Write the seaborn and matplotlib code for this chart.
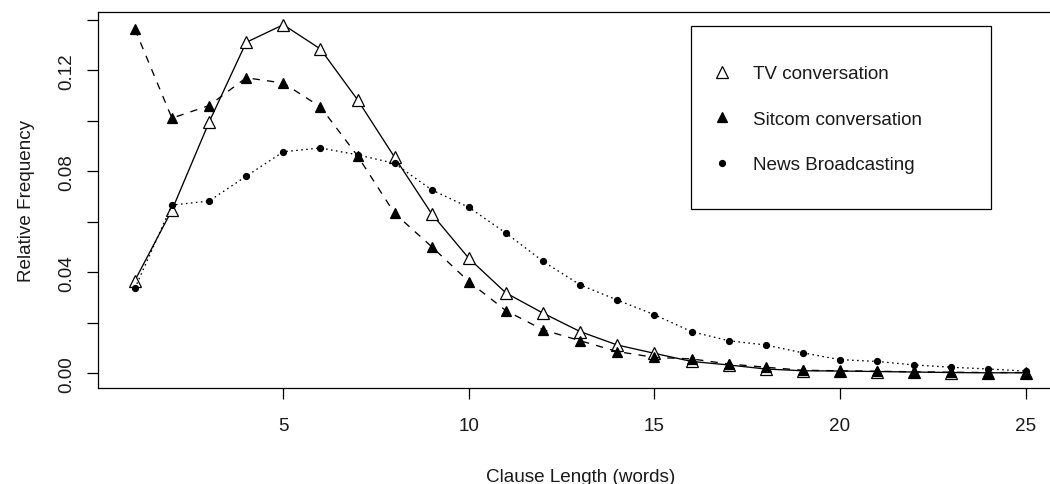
import numpy as np
import pandas as pd
import seaborn as sns
import matplotlib.pyplot as plt
from matplotlib.lines import Line2D
from matplotlib.patches import Rectangle

# Clause length in words
lengths = list(range(1, 26))

# Relative frequency per clause length
tv = [0.0367, 0.0646, 0.0994, 0.1310, 0.1380, 0.1284, 0.1083, 0.0855, 0.0631,
      0.0455, 0.0318, 0.0238, 0.0165, 0.0112, 0.0079, 0.0047, 0.0033, 0.0017,
      0.0010, 0.0009, 0.0007, 0.0005, 0.0003, 0.0002, 0.0002]
sitcom = [0.1363, 0.1010, 0.1060, 0.1170, 0.1149, 0.1055, 0.0861, 0.0633, 0.0501,
          0.0363, 0.0248, 0.0172, 0.0129, 0.0086, 0.0063, 0.0057, 0.0037, 0.0024,
          0.0012, 0.0010, 0.0008, 0.0006, 0.0004, 0.0003, 0.0003]
news = [0.0336, 0.0666, 0.0682, 0.0780, 0.0877, 0.0892, 0.0865, 0.0831, 0.0726,
        0.0657, 0.0555, 0.0443, 0.0350, 0.0290, 0.0232, 0.0165, 0.0129, 0.0112,
        0.0081, 0.0054, 0.0047, 0.0033, 0.0024, 0.0017, 0.0009]

series_names = ['TV conversation', 'Sitcom conversation', 'News Broadcasting']

x_ticks = [5, 10, 15, 20, 25]
y_ticks = [0.00, 0.02, 0.04, 0.06, 0.08, 0.10, 0.12, 0.14]
y_tick_labels = ['0.00', '', '0.04', '', '0.08', '', '0.12', '']

sns.set_style('white')
plt.rcParams['font.family'] = ['Liberation Sans', 'DejaVu Sans']
FS = 13.6

W, H = 1050, 485
fig = plt.figure(figsize=(W / 100, H / 100), dpi=100)
# plot box (pixels): left 97.7, bottom 389.3, width 965 (runs off the right edge), height 376.6
ax = fig.add_axes([97.7 / W, (H - 389.3) / H, 965 / W, 376.6 / H])

# styles for the three series
styles = {
    'TV conversation': dict(linestyle='-', marker='^', markersize=8,
                            markerfacecolor='white'),
    'Sitcom conversation': dict(linestyle=(0, (5.5, 5.5)), marker='^',
                                markersize=7.5, markerfacecolor='black'),
    'News Broadcasting': dict(linestyle=(0, (1.2, 2.6)), marker='o',
                              markersize=4.3, markerfacecolor='black'),
}

for name, vals in zip(series_names, [tv, sitcom, news]):
    sns.lineplot(x=lengths, y=vals, ax=ax, color='black', linewidth=0.95,
                 markeredgecolor='black', markeredgewidth=0.9,
                 errorbar=None, legend=False, **styles[name])

ax.set_xlim(0, 26)
ax.set_ylim(-0.00594, 0.14315)
ax.set_xticks(x_ticks)
ax.set_xticklabels([str(t) for t in x_ticks])
ax.set_yticks(y_ticks)
ax.set_yticklabels(y_tick_labels, rotation=90, va='center')

ax.tick_params(direction='out', length=8, width=0.9, color='black',
               labelsize=FS, labelcolor='#1a1a1a', left=True, bottom=True)
ax.tick_params(axis='x', pad=12.5)
ax.tick_params(axis='y', pad=8)

for sp in ax.spines.values():
    sp.set_visible(True)
    sp.set_color('black')
    sp.set_linewidth(0.9)

ax.set_xlabel('Clause Length (words)', fontsize=FS, color='#1a1a1a')
ax.set_ylabel('Relative Frequency', fontsize=FS, color='#1a1a1a')
ax.xaxis.set_label_coords(0.5, (389.3 - 469) / 376.6)
ax.yaxis.set_label_coords((35 - 97.7) / 965, 0.5)

# legend: markers only, inside a plain box
handles = [Line2D([], [], color='black', linestyle='None',
                  markeredgecolor='black', markeredgewidth=0.9,
                  **{k: v for k, v in styles[n].items() if k != 'linestyle'})
           for n in series_names]
leg = ax.legend(handles, series_names, loc='upper left',
                bbox_to_anchor=(712.2 / W, 1 - 66 / H),
                bbox_transform=fig.transFigure, frameon=False,
                borderpad=0, borderaxespad=0, handlelength=1.0,
                handletextpad=1.14, labelspacing=1.5, fontsize=FS)
for t in leg.get_texts():
    t.set_color('#1a1a1a')

fig.add_artist(Rectangle((691 / W, 1 - 210 / H), 300 / W, 182.7 / H,
                         transform=fig.transFigure, fill=False,
                         edgecolor='black', linewidth=0.9))

fig.savefig('out.png', dpi=100)
